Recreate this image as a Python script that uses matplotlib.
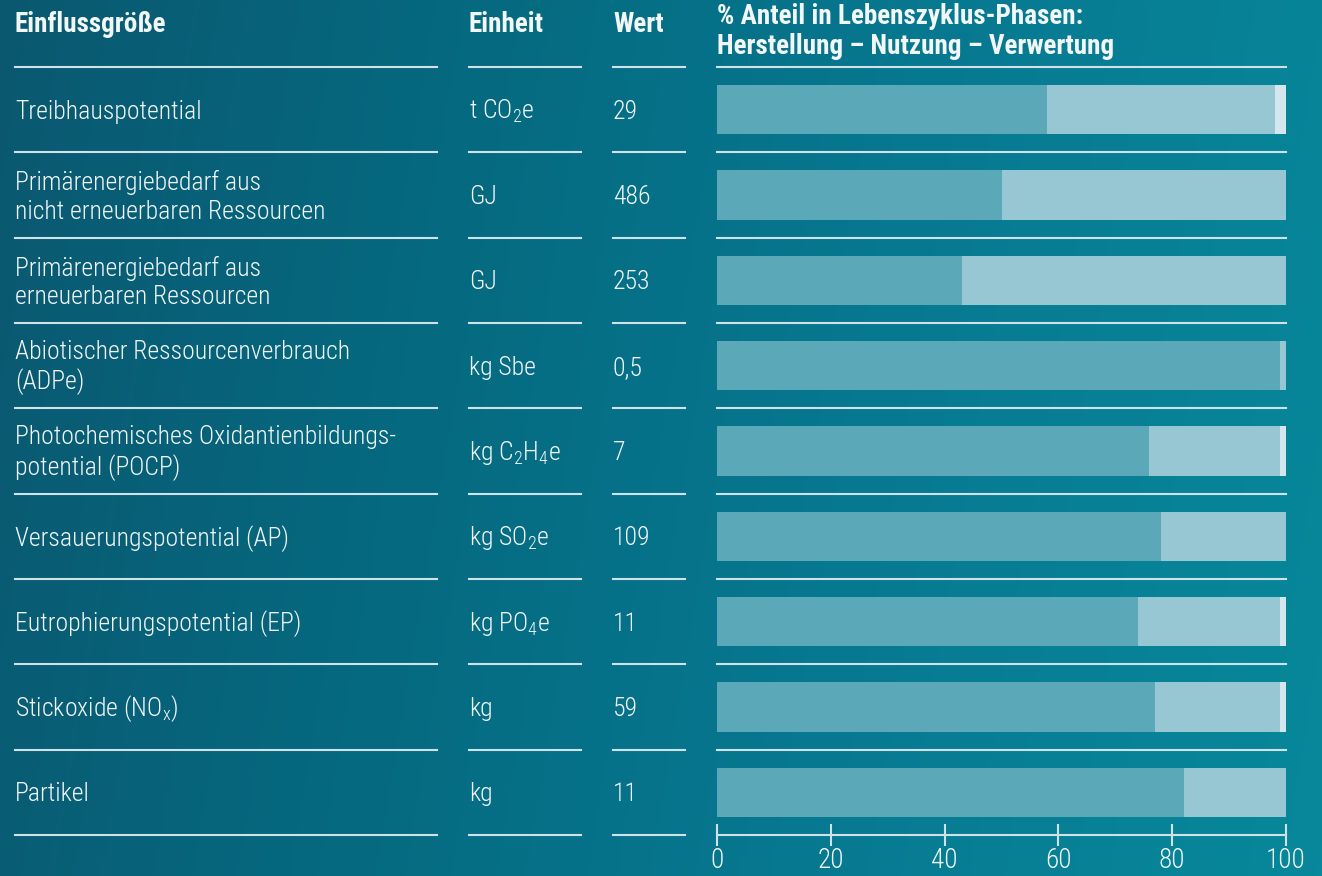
import matplotlib.pyplot as plt
import numpy as np
from matplotlib import font_manager
from matplotlib.colors import LinearSegmentedColormap

# table content
groessen = ["Treibhauspotential",
            "Primärenergiebedarf aus\nnicht erneuerbaren Ressourcen",
            "Primärenergiebedarf aus\nerneuerbaren Ressourcen",
            "Abiotischer Ressourcenverbrauch\n(ADPe)",
            "Photochemisches Oxidantienbildungs-\npotential (POCP)",
            "Versauerungspotential (AP)",
            "Eutrophierungspotential (EP)",
            r"Stickoxide (NO$_\mathregular{x}$)",
            "Partikel"]
einheiten = [r"t CO$_\mathregular{2}$e", "GJ", "GJ", "kg Sbe",
             r"kg C$_\mathregular{2}$H$_\mathregular{4}$e",
             r"kg SO$_\mathregular{2}$e", r"kg PO$_\mathregular{4}$e", "kg", "kg"]
werte = ["29", "486", "253", "0,5", "7", "109", "11", "59", "11"]

# % share per life cycle phase
herstellung = [58, 50, 43, 99, 76, 78, 74, 77, 82]
nutzung = [40, 50, 57, 1, 23, 22, 25, 22, 18]
verwertung = [2, 0, 0, 0, 1, 0, 1, 1, 0]
ticks = [0, 20, 40, 60, 80, 100]


def pick(names):
    for n in names:
        try:
            font_manager.findfont(n, fallback_to_default=False)
            return n
        except Exception:
            pass
    return "DejaVu Sans"


font = pick(["Roboto Condensed", "Liberation Sans Narrow", "Roboto"])
plt.rcParams['font.family'] = [font, 'DejaVu Sans']

W, H = 1322, 876
fig = plt.figure(figsize=(W / 100, H / 100), dpi=100)

# background gradient
bg = fig.add_axes([0, 0, 1, 1])
cmap = LinearSegmentedColormap.from_list("bg", ["#0a5870", "#056a80", "#077a92", "#08889a"])
gx, gy = np.meshgrid(np.linspace(0, 1, 400), np.linspace(0, 1, 300))
bg.imshow(0.9 * gx + 0.1 * gy, cmap=cmap, aspect='auto', extent=[0, W, H, 0])
bg.set_xlim(0, W)
bg.set_ylim(H, 0)
bg.axis('off')

txt = '#f2f7f8'
line = '#cfe2e7'
top, row_h = 67, 768 / 9
cols = [(15, 437), (469, 581), (613, 685)]

# header
head_kw = dict(color=txt, fontsize=19.5, fontweight='bold', va='center')
bg.text(15, 25, "Einflussgröße", **head_kw)
bg.text(469, 25, "Einheit", **head_kw)
bg.text(613, 25, "Wert", **head_kw)
bg.text(717, 17, "% Anteil in Lebenszyklus-Phasen:", **head_kw)
bg.text(717, 47, "Herstellung – Nutzung – Verwertung", **head_kw)

for k in range(10):
    y = top + k * row_h
    for x0, x1 in cols:
        bg.plot([x0, x1], [y, y], color=line, lw=1.5)

body_kw = dict(color=txt, fontsize=18.5, fontweight='light', va='center', linespacing=1.22)
for i in range(len(groessen)):
    yc = top + (i + 0.5) * row_h + 2
    bg.text(15, yc, groessen[i], **body_kw)
    bg.text(469, yc, einheiten[i], **body_kw)
    bg.text(613, yc, werte[i], **body_kw)

# bars
ax = fig.add_axes([717 / W, 1 - 835 / H, 569 / W, 768 / H])
ax.patch.set_alpha(0)
pos = np.arange(len(herstellung)) + 0.5
h = np.array(herstellung)
n = np.array(nutzung)
v = np.array(verwertung)
bh = 0.575
ax.barh(pos, h, height=bh, color='#5ba8b8')
ax.barh(pos, n, left=h, height=bh, color='#97c7d2')
ax.barh(pos, v, left=h + n, height=bh, color='#d3e7ec')
for k in range(9):
    ax.axhline(k, color=line, lw=1.5, clip_on=False)
ax.set_xlim(0, 100)
ax.set_ylim(9, 0)
for s in ['top', 'right', 'left']:
    ax.spines[s].set_visible(False)
ax.spines['bottom'].set_color(line)
ax.spines['bottom'].set_linewidth(1.5)
ax.set_yticks([])
ax.set_xticks(ticks)
ax.tick_params(axis='x', direction='inout', length=16, width=1.5, color=line,
               labelcolor=txt, labelsize=19.5, pad=1)
for lab in ax.get_xticklabels():
    lab.set_fontweight('light')

fig.savefig("out.png", dpi=100)
